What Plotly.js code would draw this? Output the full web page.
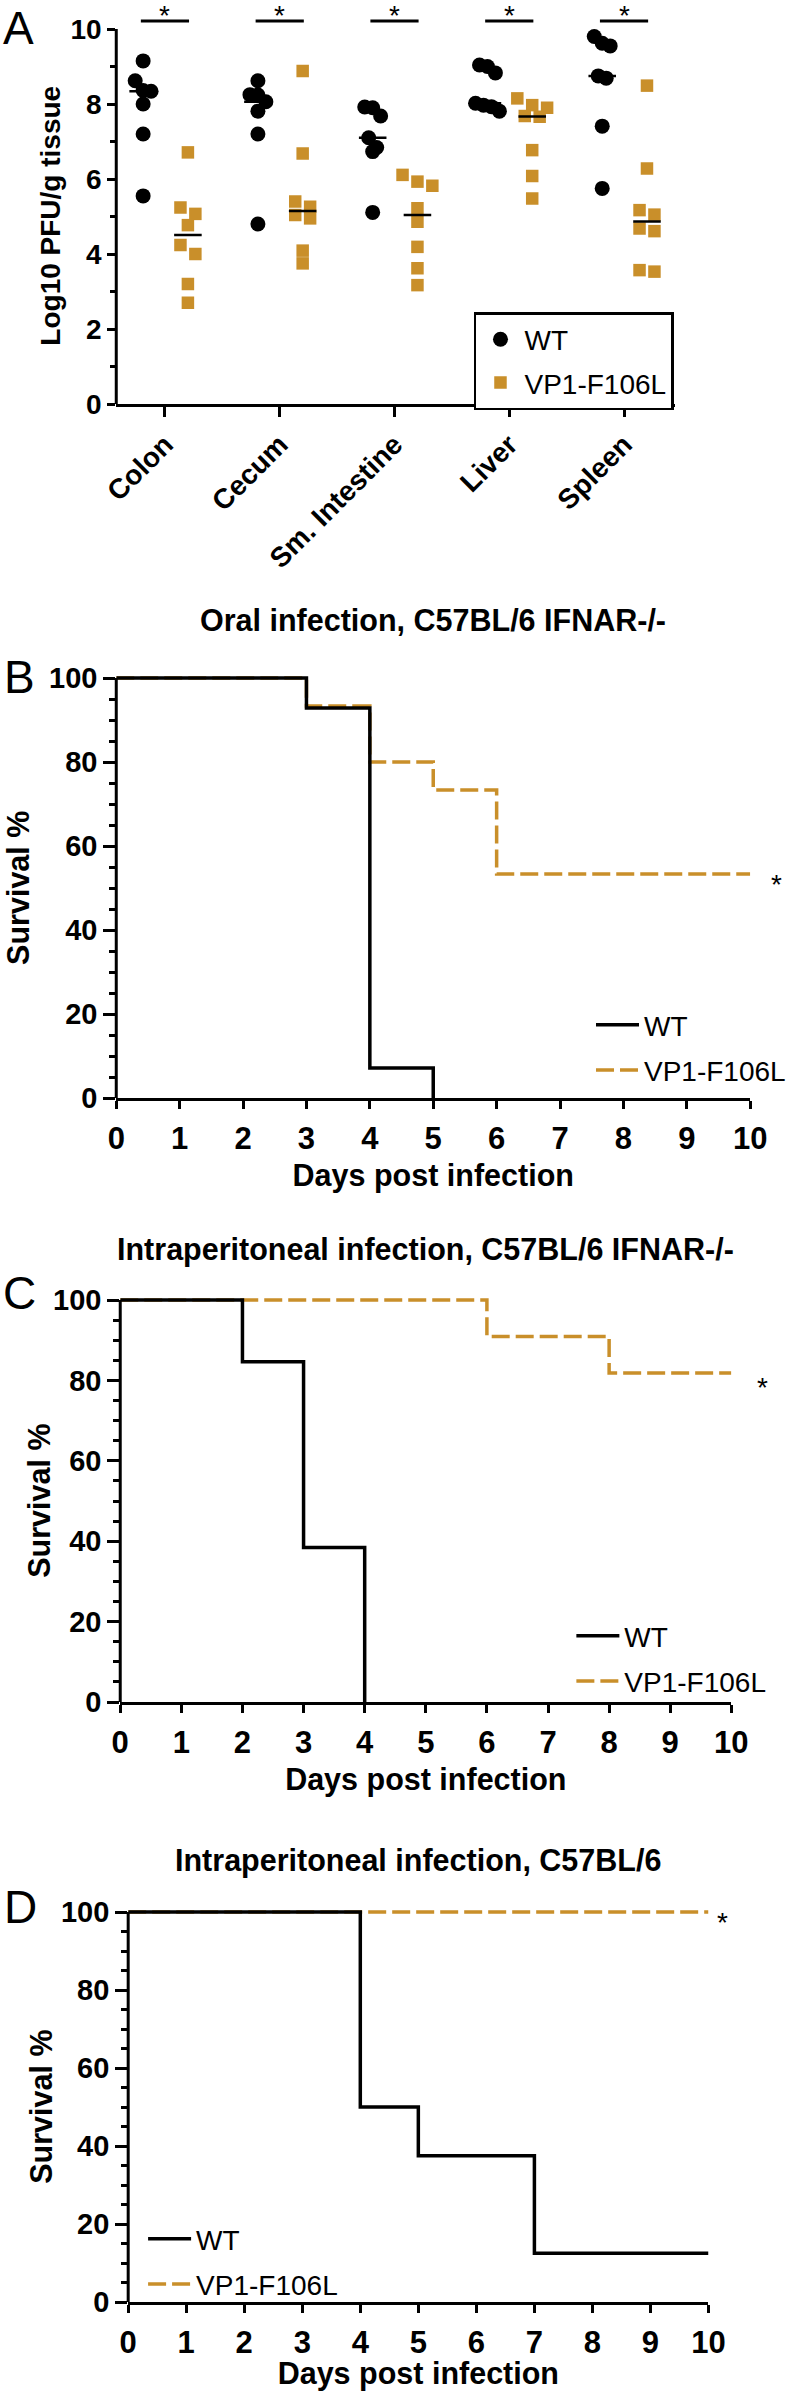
<!DOCTYPE html>
<html><head><meta charset="utf-8">
<script src="https://cdn.plot.ly/plotly-3.0.1.min.js"></script>
<style>html,body{margin:0;padding:0;background:#fff}</style>
</head><body><div id="chart" style="width:791px;height:2391px"></div>
<script>
// ---------------- Panel A data (log10 PFU / g tissue) ----------------
const tissues = ['Colon', 'Cecum', 'Sm. Intestine', 'Liver', 'Spleen'];
const wt_colon  = [9.15, 8.62, 8.36, 8.34, 8.00, 7.20, 5.55];
const wt_cecum  = [8.62, 8.25, 8.24, 8.06, 7.81, 7.20, 4.80];
const wt_smint  = [7.92, 7.90, 7.68, 7.10, 6.84, 6.73, 5.11];
const wt_liver  = [9.04, 9.00, 8.83, 8.02, 7.97, 7.93, 7.81];
const wt_spleen = [9.80, 9.62, 9.55, 8.75, 8.69, 7.41, 5.75];
const mut_colon  = [6.71, 5.24, 5.07, 4.77, 4.24, 4.00, 3.20, 2.70];
const mut_cecum  = [8.88, 6.68, 5.40, 5.26, 5.04, 4.95, 4.09, 3.75];
const mut_smint  = [6.11, 5.93, 5.82, 5.22, 4.86, 4.19, 3.62, 3.17];
const mut_liver  = [8.15, 7.97, 7.90, 7.68, 7.66, 6.77, 6.08, 5.48];
const mut_spleen = [8.49, 6.28, 5.17, 5.05, 4.68, 4.61, 3.57, 3.53];
const wtGroups  = [wt_colon, wt_cecum, wt_smint, wt_liver, wt_spleen];
const mutGroups = [mut_colon, mut_cecum, mut_smint, mut_liver, mut_spleen];
const seriesNames = ['WT', 'VP1-F106L'];

// ---------------- Survival data (day, survival %) ----------------
const panelTitles = ['Oral infection, C57BL/6 IFNAR-/-',
                     'Intraperitoneal infection, C57BL/6 IFNAR-/-',
                     'Intraperitoneal infection, C57BL/6'];
const daysB_wt  = [0, 3, 4, 5];          const survB_wt  = [100, 92.86, 7.14, 0];
const daysB_mut = [0, 3, 4, 5, 6, 10];   const survB_mut = [100, 93.33, 80, 73.33, 53.33, 53.33];
const daysC_wt  = [0, 2, 3, 4];          const survC_wt  = [100, 84.62, 38.46, 0];
const daysC_mut = [0, 6, 8, 10];         const survC_mut = [100, 90.91, 81.82, 81.82];
const daysD_wt  = [0, 4, 5, 7, 10];      const survD_wt  = [100, 50, 37.5, 12.5, 12.5];
const daysD_mut = [0, 10];               const survD_mut = [100, 100];
const dayTicks = [0,1,2,3,4,5,6,7,8,9,10];

// ---------------- styling / geometry ----------------
const W = 791, H = 2391;
const FONT = '"Liberation Sans", Arial, Helvetica, sans-serif';
const GOLD = '#C98F2A';
const py = p => 1 - p / H;

const A = {left:117, right:679, cat0:166, pitch:115.5, y0:404, ppu:37.5, top:10.7};
const wtOff = -0.19, mutOff = 0.20, medHalf = 0.12, sigHalf = 0.21;

function swarm(vals, sizePx, spacingPx) {
  const idx = vals.map((v,i)=>i).sort((a,b)=>vals[b]-vals[a]);
  const offs = new Array(vals.length).fill(0);
  const rows = []; let cur = [];
  idx.forEach(i => {
    if (cur.length && (vals[cur[0]] - vals[i]) * A.ppu > sizePx * 0.9) { rows.push(cur); cur = []; }
    cur.push(i);
  });
  if (cur.length) rows.push(cur);
  rows.forEach(r => r.forEach((i,j) => { offs[i] = (j - (r.length-1)/2) * spacingPx / A.pitch; }));
  return offs;
}
function median(a) {
  const s = [...a].sort((x,y)=>x-y), n = s.length;
  return n % 2 ? s[(n-1)/2] : (s[n/2-1] + s[n/2]) / 2;
}

const traces = [];
function groupTrace(groups, name, off, symbol, size, spacing, color, rank) {
  const xs = [], ys = [];
  groups.forEach((g, i) => {
    const o = swarm(g, size, spacing);
    g.forEach((v, k) => { xs.push(i + off + o[k]); ys.push(v); });
  });
  return {type:'scatter', mode:'markers', x:xs, y:ys, name:name, xaxis:'x', yaxis:'y',
          marker:{symbol:symbol, size:size, color:color, line:{width:0}},
          legend:'legend', legendgroup:name+'A', legendrank:rank, cliponaxis:false};
}
traces.push(groupTrace(wtGroups, seriesNames[0], wtOff, 'circle', 15, 8, '#000', 1));
traces.push(groupTrace(mutGroups, seriesNames[1], mutOff, 'square', 12.5, 15, GOLD, 2));
(function(){
  const xs = [], ys = [];
  [[wtGroups, wtOff], [mutGroups, mutOff]].forEach(([gs, off]) => {
    gs.forEach((g, i) => { const m = median(g);
      xs.push(i+off-medHalf, i+off+medHalf, null); ys.push(m, m, null); });
  });
  traces.push({type:'scatter', mode:'lines', x:xs, y:ys, xaxis:'x', yaxis:'y',
               line:{color:'#000', width:2.5}, showlegend:false, hoverinfo:'skip'});
})();

const P = [
  {ax:'2', x0:117, x10:755, y0:1098, y100:678, legend:'legend2', wt:[daysB_wt, survB_wt], mut:[daysB_mut, survB_mut],
   title:620, ytx:18, leg:{x:595, y:1000}, star:{dx:26, dy:-10}},
  {ax:'3', x0:121, x10:736, y0:1702, y100:1300, legend:'legend3', wt:[daysC_wt, survC_wt], mut:[daysC_mut, survC_mut],
   title:1250, ytx:39, leg:{x:575, y:1611}, star:{dx:31, dy:-14}},
  {ax:'4', x0:129, x10:713, y0:2302, y100:1912, legend:'legend4', wt:[daysD_wt, survD_wt], mut:[daysD_mut, survD_mut],
   title:1860, ytx:41, leg:{x:144, y:2214}, star:{dx:14, dy:-10}},
];
P.forEach(p => {
  traces.push({type:'scatter', mode:'lines', x:p.mut[0], y:p.mut[1], name:seriesNames[1],
    xaxis:'x'+p.ax, yaxis:'y'+p.ax, line:{shape:'hv', color:GOLD, width:3.5, dash:'18px,6px'},
    legend:p.legend, legendgroup:'m'+p.ax, legendrank:2});
  traces.push({type:'scatter', mode:'lines', x:p.wt[0], y:p.wt[1], name:seriesNames[0],
    xaxis:'x'+p.ax, yaxis:'y'+p.ax, line:{shape:'hv', color:'#000', width:3.5},
    legend:p.legend, legendgroup:'w'+p.ax, legendrank:1});
});

const titleFont = {family:FONT, size:30.5, color:'#000', weight:'bold'};

const layout = {
  width:W, height:H, margin:{l:0, r:0, t:0, b:0},
  paper_bgcolor:'#fff', plot_bgcolor:'rgba(0,0,0,0)',
  font:{family:FONT, color:'#000'},
  showlegend:true,
  xaxis:{domain:[A.left/W, A.right/W], range:[(A.left-A.cat0)/A.pitch, (A.right-A.cat0)/A.pitch],
    tickvals:[0,1,2,3,4], ticktext:tissues, tickangle:-45, ticks:'outside', ticklen:10, tickwidth:3,
    tickcolor:'#000', showline:true, linewidth:3, linecolor:'#000', showgrid:false, zeroline:false,
    tickfont:{family:FONT, size:28, color:'#000', weight:'bold'}, anchor:'y'},
  yaxis:{domain:[py(A.y0), py(A.y0 - A.top*A.ppu)], range:[0, A.top], tickvals:[0,2,4,6,8,10],
    ticks:'outside', ticklen:8, tickwidth:3, tickcolor:'#000', showline:false, showgrid:false, zeroline:false,
    minor:{tickvals:[1,3,5,7,9], ticks:'outside', ticklen:5, tickwidth:3, tickcolor:'#000', showgrid:false},
    tickfont:{family:FONT, size:28, color:'#000', weight:'bold'}, anchor:'x'},
  legend:{x:477/W, y:py(312), xanchor:'left', yanchor:'top', bordercolor:'#000', borderwidth:2.5,
    bgcolor:'#fff', font:{family:FONT, size:28, color:'#000'}, tracegroupgap:4, itemwidth:38},
  shapes:[], annotations:[]
};
layout.shapes.push({type:'line', xref:'paper', yref:'y', x0:A.left/W, x1:A.left/W, y0:0, y1:10, line:{color:'#000', width:3}});
tissues.forEach((t, i) => {
  layout.shapes.push({type:'line', xref:'x', yref:'y', x0:i-sigHalf, x1:i+sigHalf, y0:10.21, y1:10.21, line:{color:'#000', width:3}});
  layout.annotations.push({xref:'x', yref:'y', x:i, y:10.36, text:'*', showarrow:false,
    font:{family:FONT, size:28, color:'#000'}, yanchor:'middle'});
});
// A y-axis title
layout.annotations.push({xref:'paper', yref:'paper', x:50/W, y:py(216), text:'Log10 PFU/g tissue', textangle:-90,
  showarrow:false, font:{family:FONT, size:28, color:'#000', weight:'bold'}, xanchor:'center', yanchor:'middle'});

P.forEach((p, k) => {
  const ppu = (p.y0 - p.y100) / 100;
  const top = 101.3;
  layout['xaxis'+p.ax] = {domain:[p.x0/W, p.x10/W], range:[0, 10], tickvals:dayTicks, ticks:'outside',
    ticklen:8, tickwidth:3, tickcolor:'#000', showline:true, linewidth:3, linecolor:'#000', showgrid:false,
    zeroline:false, tickfont:{family:FONT, size:31, color:'#000', weight:'bold'}, ticklabelstandoff:3,
    anchor:'y'+p.ax, title:{text:'Days post infection', font:titleFont, standoff:10}};
  layout['yaxis'+p.ax] = {domain:[py(p.y0), py(p.y100 - (top-100)*ppu)], range:[0, top],
    tickvals:[0,20,40,60,80,100], ticks:'outside', ticklen:12, tickwidth:3, tickcolor:'#000',
    minor:{dtick:5, tick0:0, ticks:'outside', ticklen:6, tickwidth:3, tickcolor:'#000', showgrid:false},
    showline:false, showgrid:false, zeroline:false, anchor:'x'+p.ax,
    tickfont:{family:FONT, size:29, color:'#000', weight:'bold'}};
  layout[p.legend] = {x:p.leg.x/W, y:py(p.leg.y), xanchor:'left', yanchor:'top', itemwidth:43,
    bgcolor:'rgba(0,0,0,0)', borderwidth:0, font:{family:FONT, size:28, color:'#000'}, tracegroupgap:6};
  layout.shapes.push({type:'line', xref:'paper', yref:'y'+p.ax, x0:p.x0/W, x1:p.x0/W, y0:0, y1:100,
    line:{color:'#000', width:3}});
  layout.annotations.push({xref:'paper', yref:'paper', x:(p.x0+p.x10)/2/W, y:py(p.title), text:panelTitles[k],
    showarrow:false, font:titleFont, xanchor:'center', yanchor:'middle'});
  layout.annotations.push({xref:'paper', yref:'paper', x:p.ytx/W, y:py((p.y0+p.y100)/2), text:'Survival %',
    textangle:-90, showarrow:false, font:titleFont, xanchor:'center', yanchor:'middle'});
  const lastMut = p.mut[1][p.mut[1].length-1];
  layout.annotations.push({xref:'x'+p.ax, yref:'y'+p.ax, x:10, y:lastMut, text:'*', showarrow:false,
    xshift:p.star.dx, yshift:p.star.dy, font:{family:FONT, size:28, color:'#000'}});
});
[['A',19,28],['B',20,677],['C',20,1293],['D',21,1907]].forEach(([t,x,y]) => {
  layout.annotations.push({xref:'paper', yref:'paper', x:x/W, y:py(y), text:t, showarrow:false,
    font:{family:FONT, size:46, color:'#000'}, xanchor:'center', yanchor:'middle'});
});

Plotly.newPlot('chart', traces, layout, {staticPlot:true, displayModeBar:false});
</script></body></html>
